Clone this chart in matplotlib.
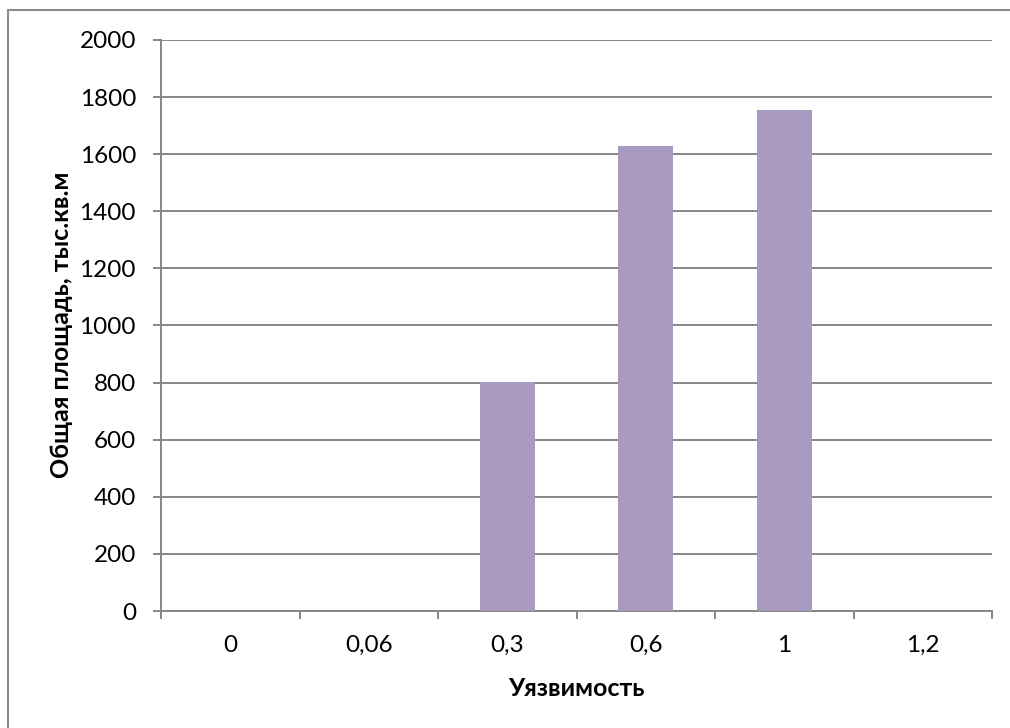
import matplotlib
matplotlib.use("Agg")
import matplotlib.pyplot as plt
from matplotlib.patches import Rectangle
import numpy as np

categories = ["0", "0,06", "0,3", "0,6", "1", "1,2"]
values = [0, 0, 803, 1628, 1755, 0]
y_ticks = [0, 200, 400, 600, 800, 1000, 1200, 1400, 1600, 1800, 2000]
x_title = "Уязвимость"
y_title = "Общая площадь, тыс.кв.м"

plt.rcParams['font.family'] = ['Lato', 'DejaVu Sans']

W, H = 1010, 728
fig = plt.figure(figsize=(W / 100, H / 100), dpi=100)
fig.patch.set_facecolor("white")

# outer chart border
fig.add_artist(Rectangle((8 / W, -0.1), 1.2, 1.1 - 10 / H, transform=fig.transFigure,
                         fill=False, edgecolor="#8c8c8c", linewidth=1.5))

ax = fig.add_axes([161 / W, 1 - 611 / H, (992 - 161) / W, (611 - 40) / H])
x = np.arange(len(categories))
ax.bar(x, values, width=0.4, color="#a99bbf", zorder=3)

ax.set_xlim(-0.5, len(categories) - 0.5)
ax.set_ylim(0, 2000)
ax.set_yticks(y_ticks)
ax.set_yticklabels([str(v) for v in y_ticks], fontsize=17.5)
ax.yaxis.grid(True, color="#868686", linewidth=1.4, zorder=0)
ax.set_axisbelow(True)

ax.set_xticks(x)
ax.set_xticklabels(categories, fontsize=17.5)
ax.set_xticks(np.arange(-0.5, len(categories)), minor=True)
ax.tick_params(axis="x", which="major", length=0, pad=17)
ax.tick_params(axis="x", which="minor", length=6, width=1.4, color="#868686", direction="out")
ax.tick_params(axis="y", length=6, width=1.4, color="#868686", pad=12)

for s in ["top", "right"]:
    ax.spines[s].set_visible(False)
for s in ["left", "bottom"]:
    ax.spines[s].set_color("#868686")
    ax.spines[s].set_linewidth(1.4)

fig.text(576 / W, 1 - 688 / H, x_title, ha="center", va="center",
         fontsize=18, fontweight="bold")
fig.text(62 / W, 1 - 325 / H, y_title, ha="center", va="center",
         rotation=90, fontsize=18, fontweight="bold")

fig.savefig("out.png", dpi=100, facecolor="white")
